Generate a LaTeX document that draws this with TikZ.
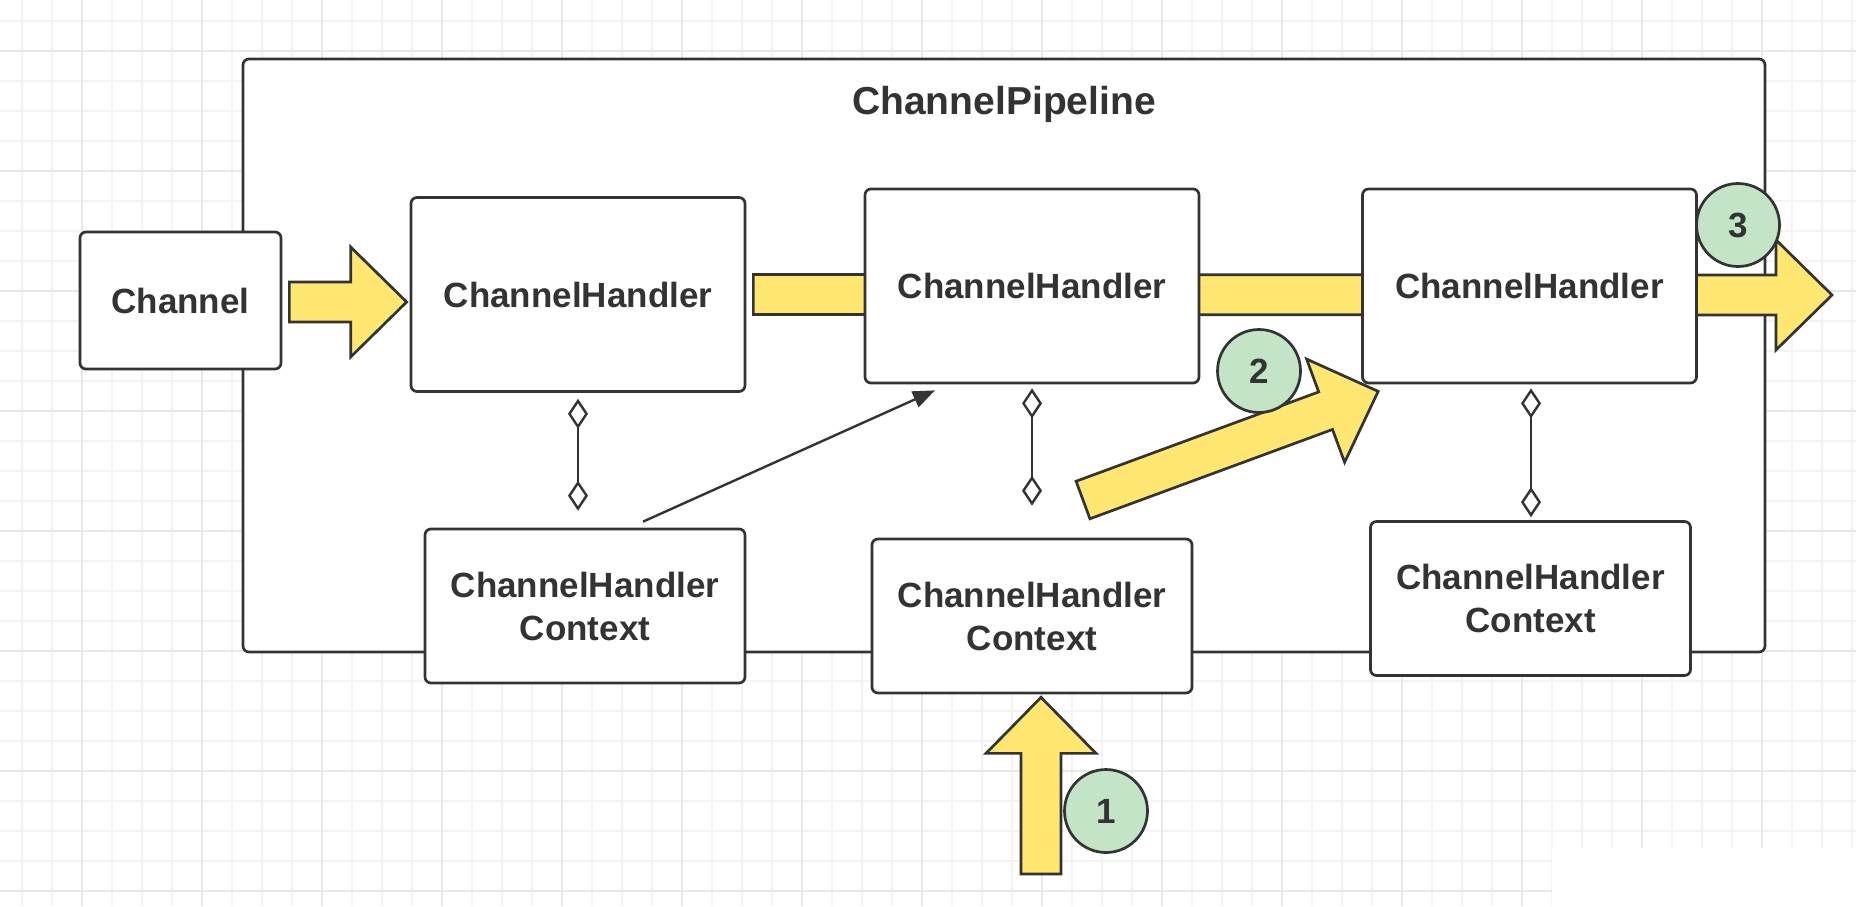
\documentclass[tikz,border=0pt]{standalone}
\usepackage{fontspec}
\setmainfont{Liberation Sans}
\usetikzlibrary{arrows.meta,calc,positioning}

\definecolor{inkgray}{HTML}{333333}
\definecolor{flowyellow}{HTML}{FFE771}
\definecolor{stepgreen}{HTML}{C3E4C6}
\definecolor{gridminor}{HTML}{F3F3F3}
\definecolor{gridmajor}{HTML}{E8E8E8}

\tikzset{
  box/.style={draw=inkgray, line width=1.35pt, fill=white, rounded corners=3pt,
    align=center, text=inkgray, inner sep=0pt,
    font=\bfseries\fontsize{17.5}{21.5}\selectfont},
  handlerbox/.style={box, minimum width=167pt, minimum height=97pt},
  contextbox/.style={box, minimum width=160pt, minimum height=77pt},
  blockarrow/.style={draw=inkgray, line width=1.35pt, fill=flowyellow, line join=miter},
  stepmark/.style={circle, draw=inkgray, line width=1.35pt, fill=stepgreen,
    minimum size=41.5pt, inner sep=0pt, text=inkgray,
    font=\bfseries\fontsize{17.5}{20}\selectfont},
  holds/.style={draw=inkgray, line width=1.2pt,
    arrows={Diamond[open,length=15pt,width=10pt]-Diamond[open,length=15pt,width=10pt]}},
  pointer/.style={draw=inkgray, line width=1.2pt, -{Triangle[length=11pt,width=8.5pt]}},
  gridline/.style={draw=gridminor, line width=0.7pt},
  gridbold/.style={draw=gridmajor, line width=0.8pt},
}

% yellow block arrow from #1 to #2
\newcommand{\yarrow}[2]{%
  \coordinate (ya-h) at ($(#2)!28pt!(#1)$);
  \draw[blockarrow] ($(#1)!10pt!90:(#2)$) -- ($(ya-h)!10pt!90:(#2)$)
    -- ($(ya-h)!27.5pt!90:(#2)$) -- (#2) -- ($(ya-h)!27.5pt!-90:(#2)$)
    -- ($(ya-h)!10pt!-90:(#2)$) -- ($(#1)!10pt!-90:(#2)$) -- cycle;}

\begin{document}
\begin{tikzpicture}[x=0.5pt, y=-0.5pt]
    \useasboundingbox (0,0) rectangle (1856,906);
    \fill[white] (0,0) rectangle (1856,906);
    % background grid
    \foreach \gx in {22,52,...,1852} \draw[gridline] (\gx,0) -- (\gx,906);
    \foreach \gy in {21,51,...,891} \draw[gridline] (0,\gy) -- (1856,\gy);
    \foreach \gx in {82,202,...,1802} \draw[gridbold] (\gx,0) -- (\gx,906);
    \foreach \gy in {51,171,...,891} \draw[gridbold] (0,\gy) -- (1856,\gy);
    \fill[white] (1552,848) rectangle (1856,906);

    \node[draw=inkgray, line width=1.35pt, fill=white, rounded corners=3pt,
          minimum width=761pt, minimum height=296.5pt] (pipe) at (1004,355.5) {};
        \node[text=inkgray, font=\bfseries\fontsize{19.5}{23}\selectfont] (title) at (1004,104) {ChannelPipeline};

    % flow through the handlers
    \node[handlerbox] (h1) at (578,294.5) {ChannelHandler};
    \coordinate (bandstart) at ($(h1.east)+(7,0)$);
    \coordinate (bandtip) at (1832,295);
    \yarrow{bandstart}{bandtip}
    \node[handlerbox] (h2) at (1032,286) {ChannelHandler};
    \node[handlerbox] (h3) at (1529.5,286) {ChannelHandler};

    \node[box, minimum width=100.5pt, minimum height=68.5pt] (chan) at (180.5,300.5) {Channel};
    \coordinate (chanout) at ($(chan.east)+(7,1.5)$);
    \coordinate (h1in) at ($(h1.west)+(-3,7.5)$);
    \yarrow{chanout}{h1in}

    \node[contextbox] (c1) at (585,606) {ChannelHandler\\Context};
    \node[contextbox] (c2) at (1032,616) {ChannelHandler\\Context};
    \node[contextbox] (c3) at (1530.5,598.5) {ChannelHandler\\Context};

    \draw[holds] ($(h1.south)+(0,6)$) -- ($(c1.north -| h1.south)+(0,-17)$);
    \draw[holds] ($(h2.south)+(0,4)$) -- ($(c2.north)+(0,-32)$);
    \draw[holds] ($(h3.south)+(1.5,4)$) -- ($(c3.north)+(0.5,-3)$);

    \coordinate (ctxout) at ($(c1.north)+(58,-6)$);
    \coordinate (h2in) at ($(h2.south)+(-97,6)$);
    \draw[pointer] (ctxout) -- (h2in);

    % numbered steps
    \coordinate (inlet) at (1041,874);
    \coordinate (uptip) at ($(c2.south)+(9,3)$);
    \yarrow{inlet}{uptip}
    \coordinate (jumpstart) at (1083,500);
    \coordinate (jumptip) at ($(h3.south west)+(17,7)$);
    \yarrow{jumpstart}{jumptip}

    \node[stepmark] (one) at (1106,811) {1};
    \node[stepmark] (two) at (1259,371) {2};
    \node[stepmark] (three) at (1738,225) {3};
\end{tikzpicture}
\end{document}
